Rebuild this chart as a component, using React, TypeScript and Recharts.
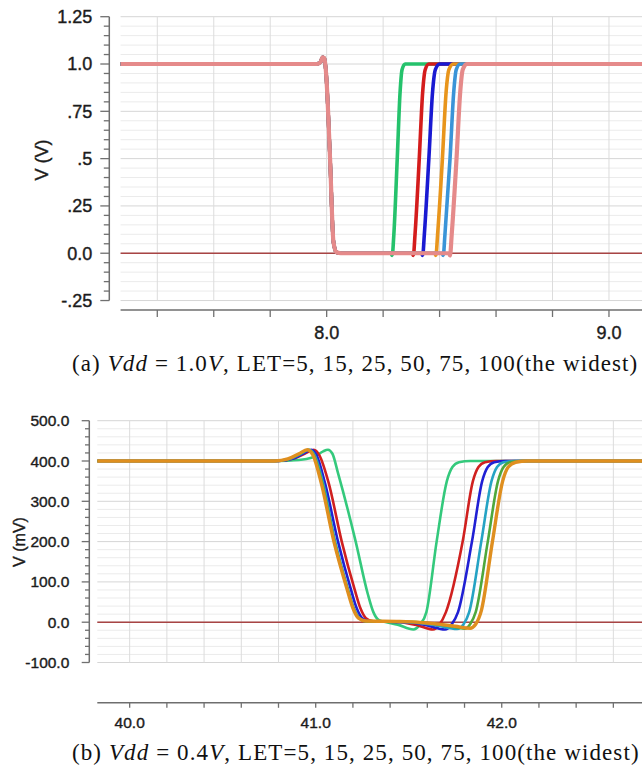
import React from 'react';
import { LineChart, Line, XAxis, YAxis, ReferenceLine } from 'recharts';

type Pt = { t: number; v: number };
const pts = (arr: number[][]): Pt[] => arr.map(([t, v]) => ({ t, v }));

// ---------- (a) Vdd = 1.0V, time in ns, voltage in V ----------
const aFall = [
  [7.27, 1.0], [7.965, 1.0], [7.978, 1.01], [7.986, 1.035], [7.992, 1.03],
  [7.998, 0.95], [8.012, 0.5], [8.024, 0.06], [8.035, 0.005], [8.05, 0.0],
];
const aRise5 = [[8.228, 0], [8.232, -0.012], [8.238, 0.1], [8.25, 0.5], [8.26, 0.85], [8.267, 0.97], [8.278, 1.0], [9.117, 1.0]];
const aRise15 = [[8.303, 0], [8.307, -0.012], [8.313, 0.1], [8.328, 0.5], [8.34, 0.85], [8.349, 0.97], [8.362, 1.0], [9.117, 1.0]];
const aRise25 = [[8.336, 0], [8.34, -0.012], [8.346, 0.1], [8.362, 0.5], [8.375, 0.85], [8.385, 0.97], [8.4, 1.0], [9.117, 1.0]];
const aRise50 = [[8.383, 0], [8.387, -0.012], [8.393, 0.1], [8.41, 0.5], [8.423, 0.85], [8.433, 0.97], [8.448, 1.0], [9.117, 1.0]];
const aRise75 = [[8.409, 0], [8.413, -0.012], [8.419, 0.1], [8.437, 0.5], [8.45, 0.85], [8.459, 0.97], [8.473, 1.0], [9.117, 1.0]];
const aRise100 = [[8.433, 0], [8.437, -0.012], [8.443, 0.1], [8.46, 0.5], [8.473, 0.85], [8.482, 0.97], [8.496, 1.0], [9.117, 1.0]];
const aZero = [[7.27, 0], [9.117, 0]];

const aSeries = [
  { name: 'LET=5', color: '#25c26c', width: 3.6, data: pts([...aFall, ...aRise5]) },
  { name: 'LET=15', color: '#d41c1c', width: 3.6, data: pts([...aFall, ...aRise15]) },
  { name: 'LET=25', color: '#1a1ad2', width: 3.6, data: pts([...aFall, ...aRise25]) },
  { name: 'LET=50', color: '#e8951c', width: 3.6, data: pts([...aFall, ...aRise50]) },
  { name: 'LET=75', color: '#3a94d8', width: 3.6, data: pts([...aFall, ...aRise75]) },
  { name: 'LET=100', color: '#e58a8a', width: 4.2, data: pts([...aFall, ...aRise100]) },
];

const aYMajor = [-0.25, 0, 0.25, 0.5, 0.75, 1.0, 1.25];
const aYLabels = ['-.25', '0.0', '.25', '.5', '.75', '1.0', '1.25'];
const aXTicks = [7.4, 7.6, 7.8, 8.0, 8.2, 8.4, 8.6, 8.8, 9.0];
const aXLabels: Record<string, string> = { '8': '8.0', '9': '9.0' };

// ---------- (b) Vdd = 0.4V, time in ns, voltage in mV ----------
const bGreen = [
  [39.826, 400], [40.75, 400], [40.85, 401], [40.95, 405], [41.0, 412], [41.04, 424], [41.066, 428],
  [41.09, 418], [41.12, 370], [41.215, 200], [41.28, 70], [41.31, 25], [41.34, 5], [41.38, 0],
  [41.44, -6], [41.525, -18], [41.56, -6], [41.595, 25], [41.65, 200], [41.705, 350], [41.735, 385],
  [41.77, 397], [41.83, 400], [42.754, 400],
];
const bRed = [
  [39.826, 400], [40.8, 400], [40.88, 406], [40.94, 418], [40.99, 428], [41.02, 414], [41.07, 345],
  [41.14, 200], [41.21, 80], [41.24, 35], [41.27, 10], [41.31, 2], [41.45, 0], [41.55, -8],
  [41.63, -18], [41.665, -6], [41.7, 25], [41.79, 200], [41.845, 350], [41.875, 385], [41.91, 397],
  [41.97, 400], [42.754, 400],
];
const bBlue = [
  [39.826, 400], [40.8, 400], [40.88, 406], [40.935, 419], [40.977, 428], [41.005, 414], [41.05, 345],
  [41.12, 200], [41.19, 80], [41.22, 35], [41.25, 10], [41.29, 2], [41.5, 0], [41.6, -8],
  [41.695, -18], [41.73, -6], [41.765, 25], [41.84, 200], [41.895, 350], [41.925, 385], [41.96, 397],
  [42.02, 400], [42.754, 400],
];
const bTeal = [
  [39.826, 400], [40.79, 400], [40.86, 405], [40.92, 418], [40.965, 428], [40.995, 414], [41.04, 345],
  [41.105, 200], [41.175, 80], [41.205, 35], [41.235, 10], [41.275, 2], [41.5, 0], [41.65, -8],
  [41.76, -17], [41.795, -5], [41.825, 25], [41.89, 200], [41.945, 350], [41.975, 385], [42.01, 397],
  [42.07, 400], [42.754, 400],
];
const bLightGreen = [
  [39.826, 400], [40.78, 400], [40.855, 405], [40.915, 418], [40.96, 428], [40.99, 414], [41.035, 345],
  [41.1, 200], [41.172, 80], [41.202, 35], [41.232, 10], [41.272, 2], [41.5, 1], [41.7, -8],
  [41.8, -16], [41.83, -5], [41.86, 25], [41.925, 200], [41.98, 350], [42.01, 385], [42.045, 397],
  [42.11, 400], [42.754, 400],
];
const bOrange = [
  [39.826, 400], [40.78, 400], [40.85, 405], [40.91, 418], [40.955, 428], [40.985, 415], [41.03, 345],
  [41.098, 200], [41.17, 80], [41.2, 35], [41.23, 10], [41.27, 3], [41.45, 2], [41.6, -2],
  [41.75, -10], [41.83, -15], [41.86, -5], [41.89, 28], [41.95, 200], [42.005, 350], [42.035, 385],
  [42.075, 397], [42.14, 400], [42.754, 400],
];
const bZero = [[39.826, 0], [42.754, 0]];

const bSeries = [
  { name: 'LET=5', color: '#34c97c', width: 2.6, data: pts(bGreen) },
  { name: 'LET=15', color: '#d0201f', width: 2.6, data: pts(bRed) },
  { name: 'LET=25', color: '#2020d4', width: 2.6, data: pts(bBlue) },
  { name: 'LET=50', color: '#25a3c4', width: 2.6, data: pts(bTeal) },
  { name: 'LET=75', color: '#4ea83c', width: 2.6, data: pts(bLightGreen) },
  { name: 'LET=100', color: '#df8f1f', width: 3.4, data: pts(bOrange) },
];

const bYMajor = [-100, 0, 100, 200, 300, 400, 500];
const bYLabels = ['-100.0', '0.0', '100.0', '200.0', '300.0', '400.0', '500.0'];
const bXTicks = [40.0, 40.2, 40.4, 40.6, 40.8, 41.0, 41.2, 41.4, 41.6, 41.8, 42.0, 42.2, 42.4, 42.6];
const bXLabels: Record<string, string> = { '40': '40.0', '41': '41.0', '42': '42.0' };

const stepTicks = (lo: number, hi: number, step: number) => {
  const n = Math.round((hi - lo) / step);
  return Array.from({ length: n + 1 }, (_, i) => +(lo + i * step).toFixed(4));
};

const sans = '"Liberation Sans", Arial, Helvetica, sans-serif';
const ink = '#1c1c1c';
const isIn = (list: number[], v: number) => list.some((m) => Math.abs(m - v) < 1e-6);

function makeYTick(major: number[], labels: string[], majLen: number, minLen: number, gap: number, fontSize: number) {
  return (props: any) => {
    const { x, y, payload } = props;
    const v = payload.value;
    const idx = major.findIndex((m) => Math.abs(m - v) < 1e-6);
    const isMajor = idx >= 0;
    return (
      <g>
        <line x1={x - (isMajor ? majLen : minLen)} x2={x} y1={y} y2={y} stroke="#707070" strokeWidth={1.3} />
        {isMajor && (
          <text
            x={x - gap}
            y={y}
            dy="0.36em"
            textAnchor="end"
            fontFamily={sans}
            fontSize={fontSize}
            fill={ink}
            stroke={ink}
            strokeWidth={0.4}
          >
            {labels[idx]}
          </text>
        )}
      </g>
    );
  };
}

function makeXTick(labels: Record<string, string>, len: number, gap: number, fontSize: number) {
  return (props: any) => {
    const { x, y, payload } = props;
    const key = String(+payload.value.toFixed(3));
    const label = labels[key];
    return (
      <g>
        <line x1={x} x2={x} y1={y} y2={y + len} stroke="#707070" strokeWidth={1.3} />
        {label && (
          <text
            x={x}
            y={y + gap}
            dy="0.36em"
            textAnchor="middle"
            fontFamily={sans}
            fontSize={fontSize}
            fill={ink}
            stroke={ink}
            strokeWidth={0.4}
          >
            {label}
          </text>
        )}
      </g>
    );
  };
}

interface PanelProps {
  top: number;
  height: number;
  marginTop: number;
  xAxisHeight: number;
  yAxisWidth: number;
  xDomain: [number, number];
  yDomain: [number, number];
  dataStart: number;
  gridBottom: number;
  gridTop: number;
  yMinor: number[];
  yMajor: number[];
  yLabels: string[];
  xTicks: number[];
  xLabels: Record<string, string>;
  series: { name: string; color: string; width: number; data: Pt[] }[];
  zero: Pt[];
  yTickCfg: [number, number, number, number];
  xTickCfg: [number, number, number];
}

function Panel(p: PanelProps) {
  const [x0, x1] = p.xDomain;
  return (
    <div style={{ position: 'absolute', left: 0, top: p.top }}>
      <LineChart width={642} height={p.height} margin={{ top: p.marginTop, right: 0, bottom: 0, left: 0 }}>
        <XAxis
          type="number"
          dataKey="t"
          domain={p.xDomain}
          allowDataOverflow
          ticks={p.xTicks}
          interval={0}
          height={p.xAxisHeight}
          axisLine={false}
          tickLine={false}
          tickSize={0}
          tickMargin={0}
          tick={makeXTick(p.xLabels, p.xTickCfg[0], p.xTickCfg[1], p.xTickCfg[2])}
        />
        <YAxis
          type="number"
          domain={p.yDomain}
          allowDataOverflow
          ticks={p.yMinor}
          interval={0}
          width={p.yAxisWidth}
          axisLine={false}
          tickLine={false}
          tickSize={0}
          tickMargin={0}
          tick={makeYTick(p.yMajor, p.yLabels, p.yTickCfg[0], p.yTickCfg[1], p.yTickCfg[2], p.yTickCfg[3])}
        />
        {p.yMinor.map((v) => (
          <ReferenceLine
            key={'h' + v}
            segment={[{ x: p.dataStart, y: v }, { x: x1, y: v }]}
            stroke={isIn(p.yMajor, v) ? '#d6d6d6' : '#ebebeb'}
            strokeWidth={1}
            ifOverflow="visible"
          />
        ))}
        {p.xTicks.map((v) => (
          <ReferenceLine
            key={'v' + v}
            segment={[{ x: v, y: p.gridBottom }, { x: v, y: p.gridTop }]}
            stroke="#dcdcdc"
            strokeWidth={1}
            ifOverflow="visible"
          />
        ))}
        <ReferenceLine
          segment={[{ x: x0, y: p.gridBottom }, { x: x0, y: p.gridTop }]}
          stroke="#6e6e6e"
          strokeWidth={1.5}
          ifOverflow="visible"
        />
        <ReferenceLine
          segment={[{ x: p.dataStart, y: p.yDomain[0] }, { x: x1, y: p.yDomain[0] }]}
          stroke="#6e6e6e"
          strokeWidth={1.5}
          ifOverflow="visible"
        />
        <Line
          data={p.zero}
          dataKey="v"
          stroke="#a84444"
          strokeWidth={1.6}
          dot={false}
          isAnimationActive={false}
        />
        {p.series.map((s) => (
          <Line
            key={s.name}
            name={s.name}
            data={s.data}
            dataKey="v"
            type="monotone"
            stroke={s.color}
            strokeWidth={s.width}
            dot={false}
            isAnimationActive={false}
          />
        ))}
      </LineChart>
    </div>
  );
}

const captionStyle: React.CSSProperties = {
  position: 'absolute',
  left: 72,
  fontFamily: '"Liberation Serif", "Times New Roman", serif',
  fontSize: 23,
  letterSpacing: 1.1,
  color: '#111',
  whiteSpace: 'nowrap',
  lineHeight: '28px',
};

const axisTitle: React.CSSProperties = {
  position: 'absolute',
  transform: 'translate(-50%, -50%) rotate(-90deg)',
  fontFamily: sans,
  color: ink,
  whiteSpace: 'nowrap',
  WebkitTextStroke: '0.4px #1c1c1c',
};

export default function App() {
  return (
    <div style={{ position: 'absolute', left: 0, top: 0, width: 642, height: 774, background: '#fff', overflow: 'hidden' }}>
      <Panel
        top={0}
        height={345}
        marginTop={16.7}
        xAxisHeight={35}
        yAxisWidth={109.3}
        xDomain={[7.23, 9.117]}
        yDomain={[-0.3, 1.25]}
        dataStart={7.27}
        gridBottom={-0.25}
        gridTop={1.25}
        yMinor={stepTicks(-0.25, 1.25, 0.05)}
        yMajor={aYMajor}
        yLabels={aYLabels}
        xTicks={aXTicks}
        xLabels={aXLabels}
        series={aSeries}
        zero={pts(aZero)}
        yTickCfg={[9, 5.5, 17, 18]}
        xTickCfg={[7, 23, 18]}
      />
      <div style={{ ...axisTitle, left: 42, top: 160, fontSize: 18 }}>V (V)</div>
      <div style={{ ...captionStyle, top: 350 }}>
        (a) <i>Vdd</i> = 1.0<i>V</i>, LET=5, 15, 25, 50, 75, 100(the widest)
      </div>

      <Panel
        top={390}
        height={345}
        marginTop={30.7}
        xAxisHeight={32.2}
        yAxisWidth={89.3}
        xDomain={[39.783, 42.754]}
        yDomain={[-200, 500]}
        dataStart={39.826}
        gridBottom={-100}
        gridTop={500}
        yMinor={stepTicks(-100, 500, 20)}
        yMajor={bYMajor}
        yLabels={bYLabels}
        xTicks={bXTicks}
        xLabels={bXLabels}
        series={bSeries}
        zero={pts(bZero)}
        yTickCfg={[7.6, 4.3, 20, 15.5]}
        xTickCfg={[5, 20, 15.5]}
      />
      <div style={{ ...axisTitle, left: 19.5, top: 542, fontSize: 16 }}>V (mV)</div>
      <div style={{ ...captionStyle, top: 739 }}>
        (b) <i>Vdd</i> = 0.4<i>V</i>, LET=5, 15, 25, 50, 75, 100(the widest)
      </div>
    </div>
  );
}
